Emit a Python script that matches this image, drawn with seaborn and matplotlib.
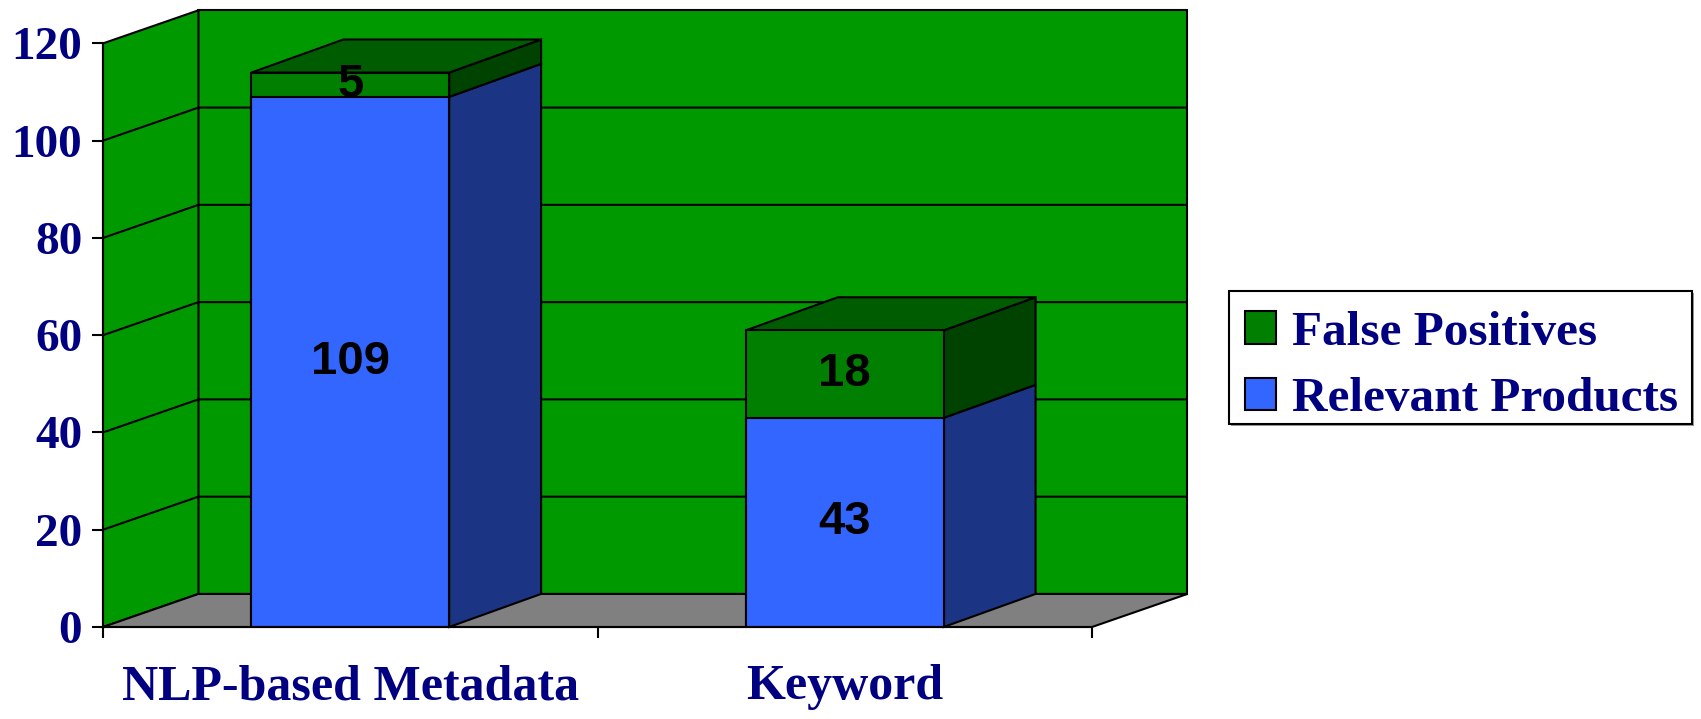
import matplotlib
matplotlib.use("Agg")
import matplotlib.pyplot as plt
import seaborn as sns
import pandas as pd
from matplotlib.patches import Polygon, Patch, Rectangle

# ---- data ----
categories = ["NLP-based Metadata", "Keyword"]
relevant = [109, 43]
false_pos = [5, 18]
series_names = ["False Positives", "Relevant Products"]
yticks = [0, 20, 40, 60, 80, 100, 120]

totals = [r + f for r, f in zip(relevant, false_pos)]
df = pd.DataFrame({"category": categories, "relevant": relevant, "total": totals})

sns.set_theme(style="white")
plt.rcParams["font.family"] = ["Liberation Serif", "DejaVu Serif"]

NAVY = "#000080"
WALL = "#009900"
FLOOR = "#808080"
BLUE = "#3366FF"
BLUE_SIDE = "#1B3483"
GREEN = "#007F00"
GREEN_TOP = "#005C00"
GREEN_SIDE = "#004200"
LW = 1.5
W, H = 1701, 719

fig = plt.figure(figsize=(17.01, 7.19), dpi=100)
ax = fig.add_axes([103 / W, (H - 627) / H, (1092 - 103) / W, (627 - 43.4) / H])

XMIN, XMAX = -0.5, 1.5
YMAX = yticks[-1]
DX, DY = 0.193, 6.8   # depth offset of the 3-D box (data units)
BDX = 0.186           # depth offset of the bars
BW = 0.4              # bar width

# back wall
ax.add_patch(Polygon([(XMIN + DX, DY), (XMAX + DX, DY), (XMAX + DX, YMAX + DY), (XMIN + DX, YMAX + DY)],
                     closed=True, facecolor=WALL, edgecolor="black", lw=LW, zorder=0.5, clip_on=False))
# left side wall
ax.add_patch(Polygon([(XMIN, 0), (XMIN + DX, DY), (XMIN + DX, YMAX + DY), (XMIN, YMAX)],
                     closed=True, facecolor=WALL, edgecolor="black", lw=LW, zorder=0.6, clip_on=False))
# floor
ax.add_patch(Polygon([(XMIN, 0), (XMAX, 0), (XMAX + DX, DY), (XMIN + DX, DY)],
                     closed=True, facecolor=FLOOR, edgecolor="black", lw=LW, zorder=0.7, clip_on=False))
# gridlines on walls
for v in yticks[1:-1]:
    ax.plot([XMIN, XMIN + DX, XMAX + DX], [v, v + DY, v + DY], color="black", lw=LW, zorder=0.8,
            clip_on=False, solid_capstyle="butt")

# front faces through seaborn
sns.barplot(data=df, x="category", y="total", color=GREEN, saturation=1, width=BW,
            edgecolor="black", linewidth=LW, ax=ax, zorder=3)
sns.barplot(data=df, x="category", y="relevant", color=BLUE, saturation=1, width=BW,
            edgecolor="black", linewidth=LW, ax=ax, zorder=3.1)

# side and top faces
for i, (r, t) in enumerate(zip(relevant, totals)):
    xl, xr = i - BW / 2, i + BW / 2
    ax.add_patch(Polygon([(xr, 0), (xr + BDX, DY), (xr + BDX, r + DY), (xr, r)], closed=True,
                         facecolor=BLUE_SIDE, edgecolor="black", lw=LW, zorder=2.5, clip_on=False))
    ax.add_patch(Polygon([(xr, r), (xr + BDX, r + DY), (xr + BDX, t + DY), (xr, t)], closed=True,
                         facecolor=GREEN_SIDE, edgecolor="black", lw=LW, zorder=2.5, clip_on=False))
    ax.add_patch(Polygon([(xl, t), (xl + BDX, t + DY), (xr + BDX, t + DY), (xr, t)], closed=True,
                         facecolor=GREEN_TOP, edgecolor="black", lw=LW, zorder=2.5, clip_on=False))
    ax.text(i, r / 2, str(r), ha="center", va="center", fontsize=34, fontweight="bold",
            family=["Liberation Sans", "DejaVu Sans"], color="black", zorder=5)
    ax.text(i, r + (t - r) / 2, str(t - r), ha="center", va="center", fontsize=34, fontweight="bold",
            family=["Liberation Sans", "DejaVu Sans"], color="black", zorder=5)

ax.set_xlim(XMIN, XMAX)
ax.set_ylim(0, YMAX)
ax.set_yticks(yticks)
ax.set_yticklabels([str(v) for v in yticks])
ax.set_xticks([XMIN, 0.5, XMAX])
ax.set_xticklabels([])
ax.set_xticks([0, 1], minor=True)
ax.set_xticklabels(categories, minor=True)
ax.set_xlabel("")
ax.set_ylabel("")
ax.patch.set_visible(False)
for s in ["top", "right"]:
    ax.spines[s].set_visible(False)
for s in ["left", "bottom"]:
    ax.spines[s].set_linewidth(LW)
    ax.spines[s].set_color("black")
    ax.spines[s].set_zorder(4)

ax.tick_params(axis="y", which="major", direction="out", length=8, width=LW, color="black",
               labelsize=34, labelcolor=NAVY, pad=7, left=True)
ax.tick_params(axis="x", which="major", direction="out", length=8, width=LW, color="black", bottom=True)
ax.tick_params(axis="x", which="minor", length=0, labelsize=36, labelcolor=NAVY, pad=27)
for lab in ax.get_yticklabels() + ax.get_xticklabels(minor=True):
    lab.set_fontweight("bold")

# legend box (frame drawn separately) with a slight shadow
fig.add_artist(Rectangle(((1229 + 2) / W, (H - 424 - 2) / H), 463 / W, 133 / H, transform=fig.transFigure,
                         facecolor="#999999", edgecolor="none", zorder=9))
fig.add_artist(Rectangle((1229 / W, (H - 424) / H), 463 / W, 133 / H, transform=fig.transFigure,
                         facecolor="white", edgecolor="black", lw=LW, zorder=9.5))
handles = [Patch(facecolor=GREEN, edgecolor="black", lw=LW),
           Patch(facecolor=BLUE, edgecolor="black", lw=LW)]
leg = fig.legend(handles, series_names, loc="center left", bbox_to_anchor=(1245 / W, (H - 366) / H),
                 borderaxespad=0, borderpad=0, labelcolor=NAVY, frameon=False,
                 handlelength=0.63, handleheight=0.63, handletextpad=0.32,
                 labelspacing=0.45, prop={"weight": "bold", "size": 35.5})
leg.set_zorder(10)

fig.savefig("out.png", dpi=100, facecolor="white")
